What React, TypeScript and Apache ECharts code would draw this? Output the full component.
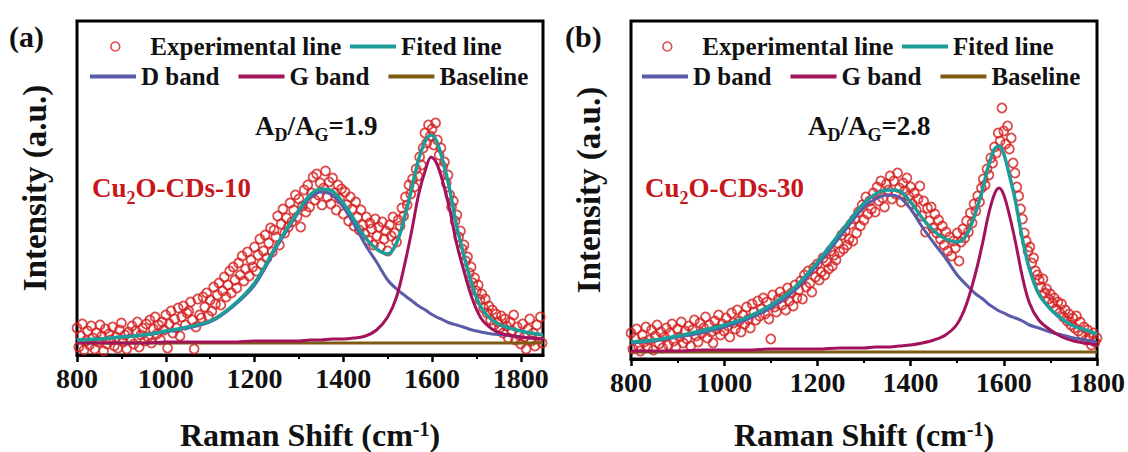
import { useEffect, useRef } from "react";
import * as echarts from "echarts";

const SERIF = "Liberation Serif";
const RED = "#d41f1f";
const TEAL = "#1d9d99";
const D_BLUE = "#5b5ca7";
const G_MAGENTA = "#a3135b";
const BROWN = "#7d5c12";
const LABEL_RED = "#c7171b";
const INK = "#111";

// Measured spectra are sampled every 4 cm-1 starting at 800 cm-1
const SHIFT_START = 800;
const SHIFT_STEP = 4;

// Cu2O-CDs-10, measured intensity (a.u.)
const expA = [
  27, 8, 19, 31, 5, 14, 24, 10, 29, 17,
  6, 22, 13, 30, 19, 4, 26, 11, 21, 15,
  28, 9, 18, 7, 25, 32, 13, 20, 6, 23,
  16, 29, 11, 24, 33, 8, 20, 27, 14, 31,
  18, 35, 12, 26, 38, 21, 30, 15, 33, 25,
  40, 7, 31, 44, 22, 36, 27, 47, 19, 38,
  49, 30, 42, 44, 53, 35, 6, 28, 56, 40,
  37, 58, 48, 62, 39, 55, 44, 68, 51, 60,
  72, 50, 64, 78, 58, 70, 84, 62, 88, 75,
  67, 92, 80, 99, 74, 86, 103, 79, 95, 88,
  108, 84, 100, 116, 91, 104, 120, 97, 112, 127,
  103, 125, 118, 139, 110, 131, 146, 122, 137, 128,
  152, 133, 145, 160, 138, 156, 128, 149, 165, 143,
  170, 148, 162, 178, 155, 181, 160, 172, 150, 167,
  184, 158, 173, 151, 177, 162, 145, 170, 156, 166,
  141, 163, 150, 134, 158, 146, 129, 153, 138, 125,
  145, 130, 121, 138, 115, 132, 126, 110, 136, 119,
  128, 108, 133, 116, 124, 104, 130, 119, 138, 122,
  113, 135, 129, 147, 139, 158, 150, 170, 161, 176,
  168, 186, 179, 198, 190, 207, 222, 212, 230, 219,
  226, 210, 232, 215, 200, 207, 188, 193, 172, 180,
  160, 148, 154, 134, 140, 118, 124, 106, 110, 94,
  98, 82, 88, 72, 77, 64, 70, 55, 61, 47,
  56, 42, 49, 35, 45, 30, 41, 33, 27, 39,
  22, 36, 29, 17, 33, 24, 40, 15, 28, 20,
  11, 31, 18, 6, 26, 36, 14, 22, 9, 30,
  17, 38, 12,
];

// Cu2O-CDs-30, measured intensity (a.u.)
const expB = [
  26, 10, 21, 30, 13, 8, 24, 17, 32, 12,
  19, 29, 9, 23, 34, 15, 27, 11, 22, 31,
  14, 26, 35, 18, 12, 30, 22, 37, 16, 28,
  20, 33, 13, 29, 39, 23, 17, 36, 26, 31,
  42, 21, 34, 27, 16, 38, 30, 44, 24, 35,
  28, 41, 33, 22, 46, 36, 30, 49, 38, 27,
  44, 35, 52, 40, 31, 55, 47, 39, 58, 43,
  50, 61, 45, 57, 40, 20, 64, 52, 47, 60,
  67, 54, 62, 49, 71, 58, 66, 53, 74, 61,
  69, 78, 60, 84, 72, 88, 76, 67, 91, 82,
  95, 79, 87, 101, 84, 97, 90, 108, 93, 104,
  99, 116, 107, 124, 110, 128, 114, 120, 135, 118,
  140, 126, 147, 133, 154, 139, 162, 145, 158, 150,
  166, 147, 172, 158, 178, 161, 152, 175, 169, 183,
  160, 178, 165, 186, 171, 157, 176, 168, 181, 163,
  172, 155, 166, 149, 160, 173, 143, 158, 127, 151,
  138, 152, 131, 145, 126, 139, 120, 133, 114, 127,
  108, 122, 103, 118, 111, 126, 98, 117, 130, 121,
  138, 127, 146, 136, 155, 148, 163, 157, 171, 180,
  174, 190, 184, 201, 196, 212, 206, 226, 218, 251,
  228, 215, 233, 210, 221, 196, 186, 172, 163, 150,
  140, 126, 118, 108, 112, 96, 101, 88, 84, 79,
  72, 80, 66, 70, 60, 65, 56, 61, 50, 57,
  46, 55, 42, 49, 38, 45, 34, 41, 31, 43,
  28, 37, 24, 32, 19, 29, 22, 14, 26, 17,
  21,
];

// Peak-fit curves, Cu2O-CDs-10
const fitShiftA = [
  800, 850, 900, 950, 1000, 1050, 1100, 1150, 1200, 1250,
  1300, 1325, 1350, 1375, 1400, 1425, 1450, 1475, 1500, 1520,
  1540, 1555, 1570, 1585, 1598, 1610, 1625, 1640, 1655, 1670,
  1690, 1710, 1735, 1760, 1800, 1850,
];
const dBandA = [
  15, 16, 18, 20, 23, 27, 33, 48, 70, 108,
  143, 157, 163, 160, 148, 130, 110, 93, 75, 66,
  59, 54, 49, 45, 41, 38, 35, 32, 30, 28,
  25, 23, 21, 20, 18, 16,
];
const gBandA = [
  12, 12, 12, 12, 13, 13, 13, 13, 14, 14,
  14, 15, 15, 16, 16, 17, 19, 25, 38, 58,
  94, 126, 161, 185, 198, 192, 172, 145, 112, 87,
  57, 37, 26, 21, 18, 16,
];
const fittedA = [
  15, 16, 18, 20, 24, 28, 34, 49, 72, 110,
  145, 160, 166, 164, 152, 135, 117, 106, 101, 112,
  141, 168, 196, 214, 220, 214, 193, 165, 130, 103,
  70, 48, 35, 29, 24, 20,
];
const baselineA = 12;

// Peak-fit curves, Cu2O-CDs-30
const fitShiftB = [
  800, 850, 900, 950, 1000, 1050, 1100, 1150, 1200, 1250,
  1300, 1325, 1350, 1375, 1400, 1425, 1450, 1475, 1500, 1520,
  1540, 1555, 1567, 1580, 1590, 1600, 1613, 1625, 1640, 1655,
  1675, 1700, 1725, 1750, 1775, 1800,
];
const dBandB = [
  16, 18, 22, 26, 32, 40, 51, 68, 94, 123,
  152, 160, 164, 162, 150, 132, 116, 101, 84, 74,
  65, 60, 55, 51, 48, 46, 43, 41, 38, 34,
  31, 27, 24, 21, 19, 17,
];
const gBandB = [
  8, 8, 8, 9, 9, 9, 10, 10, 10, 11,
  11, 12, 12, 13, 14, 16, 19, 24, 35, 55,
  87, 117, 144, 165, 171, 164, 142, 117, 82, 56,
  39, 29, 22, 18, 16, 14,
];
const fittedB = [
  17, 19, 23, 28, 34, 42, 54, 71, 97, 127,
  156, 165, 169, 168, 157, 141, 128, 120, 117, 124,
  147, 171, 193, 210, 213, 205, 182, 158, 120, 90,
  65, 50, 40, 33, 29, 25,
];
const baselineB = 7;

const majorTicks = [800, 1000, 1200, 1400, 1600, 1800];
const minorTicks = [900, 1100, 1300, 1500, 1700];

const panels = [
  {
    tag: "(a)", sample: "10", ratio: "1.9",
    exp: expA, fitX: fitShiftA, d: dBandA, g: gBandA, fit: fittedA, base: baselineA,
    xMax: 1850, left: 77, top: 21, width: 466, height: 334, nameGapX: 64,
    dx: 0, tagX: 9, ratioX: 255, sampleX: 92,
  },
  {
    tag: "(b)", sample: "30", ratio: "2.8",
    exp: expB, fitX: fitShiftB, d: dBandB, g: gBandB, fit: fittedB, base: baselineB,
    xMax: 1800, left: 631, top: 21, width: 466, height: 338, nameGapX: 60,
    dx: 552, tagX: 565, ratioX: 808, sampleX: 645,
  },
];

const boldSerif = { fontFamily: SERIF, fontWeight: "bold" as const, color: INK };

function buildOption() {
  const grid: any[] = [];
  const xAxis: any[] = [];
  const yAxis: any[] = [];
  const series: any[] = [];
  const legend: any[] = [];
  const graphic: any[] = [];

  panels.forEach((p, i) => {
    grid.push({
      left: p.left, top: p.top, width: p.width, height: p.height,
      show: true, borderColor: "#000", borderWidth: 3,
      containLabel: false, outerBoundsMode: "none",
    });

    xAxis.push({
      gridIndex: i, type: "value", position: "bottom",
      min: SHIFT_START, max: p.xMax, interval: 200,
      axisLine: { show: true, lineStyle: { color: "#000", width: 3 } },
      axisTick: { show: true, length: 7, customValues: majorTicks, lineStyle: { color: "#000", width: 2.5 } },
      axisLabel: {
        customValues: majorTicks, margin: 9, fontSize: 28, ...boldSerif,
        formatter: (v: number) => String(v),
      },
      splitLine: { show: false },
      name: "{t|Raman Shift (cm}{s|-1}{t|)}",
      nameLocation: "middle",
      nameGap: p.nameGapX,
      nameTextStyle: {
        rich: {
          t: { fontSize: 32, lineHeight: 32, ...boldSerif },
          s: { fontSize: 20, lineHeight: 12, verticalAlign: "top", ...boldSerif },
        },
      },
    });
    xAxis.push({
      gridIndex: i, type: "value", position: "bottom",
      min: SHIFT_START, max: p.xMax, interval: 100,
      axisLine: { show: false },
      axisTick: { show: true, length: 4, customValues: minorTicks, lineStyle: { color: "#000", width: 2 } },
      axisLabel: { show: false },
      splitLine: { show: false },
    });

    yAxis.push({
      gridIndex: i, type: "value", min: 0, max: p.height,
      axisLine: { show: false }, axisTick: { show: false },
      axisLabel: { show: false }, splitLine: { show: false },
      name: "Intensity (a.u.)", nameLocation: "middle", nameRotate: 90, nameGap: 26,
      nameTextStyle: { fontSize: 33, ...boldSerif },
    });

    const xi = i * 2;
    const curve = (ys: number[]) => p.fitX.map((x, k) => [x, ys[k]]);
    const lineBase = {
      type: "line", xAxisIndex: xi, yAxisIndex: i,
      showSymbol: false, symbol: "none", smooth: 0.35, silent: true,
    };

    series.push({
      type: "scatter", name: "Experimental line", xAxisIndex: xi, yAxisIndex: i,
      symbol: "circle", symbolSize: 9, silent: true, z: 2,
      itemStyle: { color: "rgba(0,0,0,0)", borderColor: RED, borderWidth: 1.8 },
      data: p.exp.map((v, k) => [SHIFT_START + k * SHIFT_STEP, v]),
    });
    series.push({
      ...lineBase, name: "Baseline", color: BROWN, z: 3,
      lineStyle: { color: BROWN, width: 3 },
      data: [[SHIFT_START, p.base], [p.xMax, p.base]],
    });
    series.push({
      ...lineBase, name: "D band", color: D_BLUE, z: 4,
      lineStyle: { color: D_BLUE, width: 3 },
      data: curve(p.d),
    });
    series.push({
      ...lineBase, name: "G band", color: G_MAGENTA, z: 5,
      lineStyle: { color: G_MAGENTA, width: 3 },
      data: curve(p.g),
    });
    series.push({
      ...lineBase, name: "Fited line", color: TEAL, z: 6,
      lineStyle: { color: TEAL, width: 3.5 },
      data: curve(p.fit),
    });

    const legendText = { fontSize: 25, ...boldSerif };
    // the legend box starts at the circle's left edge, not at the icon slot
    legend.push({
      left: 110 + p.dx, top: 34, padding: 0, itemWidth: 60, itemHeight: 9,
      selectedMode: false, textStyle: legendText,
      data: [{
        name: "Experimental line", icon: "circle",
        itemStyle: { color: "rgba(0,0,0,0)", borderColor: RED, borderWidth: 1.6 },
      }],
    });
    legend.push({
      left: 350 + p.dx, top: 34, padding: 0, itemWidth: 46, itemHeight: 4,
      selectedMode: false, textStyle: legendText, itemStyle: { borderWidth: 0 },
      data: [{ name: "Fited line", icon: "rect" }],
    });
    legend.push({
      left: 90 + p.dx, top: 64, padding: 0, itemWidth: 46, itemHeight: 4, itemGap: 19,
      selectedMode: false, textStyle: legendText, itemStyle: { borderWidth: 0 },
      data: [
        { name: "D band", icon: "rect" },
        { name: "G band", icon: "rect" },
        { name: "Baseline", icon: "rect" },
      ],
    });

    graphic.push({
      type: "text", x: p.tagX, y: 36, silent: true,
      style: {
        text: p.tag, fontSize: 30, fontWeight: "bold", fontFamily: SERIF,
        fill: INK, verticalAlign: "middle",
      },
    });
    graphic.push({
      type: "text", x: p.ratioX, y: 126, silent: true,
      style: {
        text: `{m|A}{s|D}{m|/A}{s|G}{m|=${p.ratio}}`,
        verticalAlign: "middle",
        rich: {
          m: { fontSize: 27, lineHeight: 36, fontWeight: "bold", fontFamily: SERIF, fill: INK },
          s: { fontSize: 18, lineHeight: 18, verticalAlign: "bottom", fontWeight: "bold", fontFamily: SERIF, fill: INK },
        },
      },
    });
    graphic.push({
      type: "text", x: p.sampleX, y: 188, silent: true,
      style: {
        text: `{m|Cu}{s|2}{m|O-CDs-${p.sample}}`,
        verticalAlign: "middle",
        rich: {
          m: { fontSize: 27, lineHeight: 38, fontWeight: "bold", fontFamily: SERIF, fill: LABEL_RED },
          s: { fontSize: 18, lineHeight: 18, verticalAlign: "bottom", fontWeight: "bold", fontFamily: SERIF, fill: LABEL_RED },
        },
      },
    });
  });

  return {
    animation: false,
    backgroundColor: "#fff",
    textStyle: { fontFamily: SERIF },
    grid, xAxis, yAxis, series, legend, graphic,
  };
}

export default function App() {
  const ref = useRef<HTMLDivElement>(null);
  useEffect(() => {
    document.body.style.margin = "0";
    const chart = echarts.init(ref.current!, undefined, { renderer: "svg" });
    chart.setOption(buildOption() as any);
    return () => chart.dispose();
  }, []);
  return <div ref={ref} style={{ width: 1128, height: 452, background: "#fff" }} />;
}
